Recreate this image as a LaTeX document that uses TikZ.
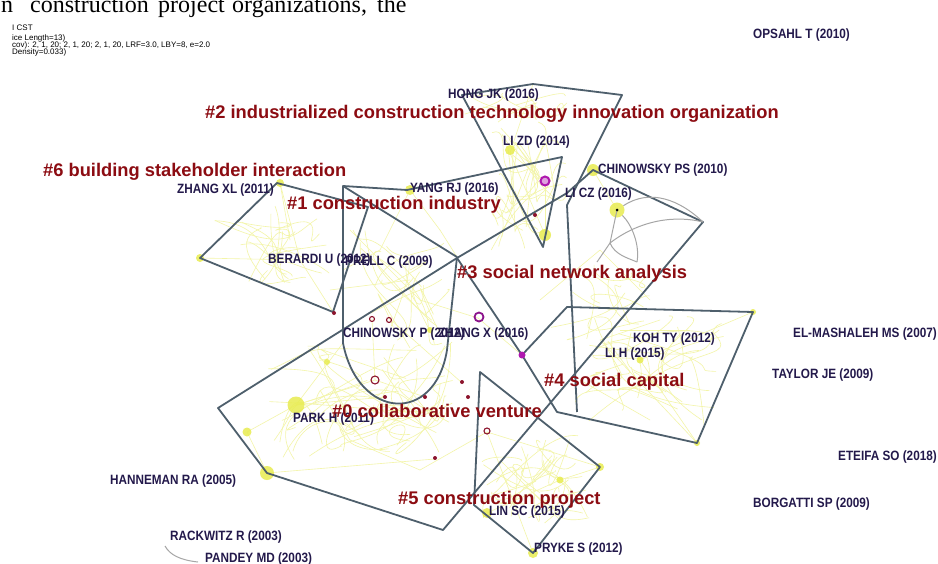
\documentclass[tikz,border=0pt]{standalone}
\usepackage{fontspec}
\setmainfont{Liberation Sans}
\newfontfamily\pagefont{Liberation Serif}
\newfontfamily\labfont[FakeStretch=0.87]{Liberation Sans}
\usetikzlibrary{positioning}

\definecolor{clusterred}{RGB}{140,12,18}
\definecolor{authnavy}{RGB}{35,25,75}
\definecolor{hullgray}{RGB}{78,95,108}
\definecolor{citeyellow}{RGB}{232,236,80}
\definecolor{ringred}{RGB}{140,20,45}
\definecolor{ringpurple}{RGB}{175,25,175}

\tikzset{
  cluster/.style={anchor=base west, inner sep=0pt, text=clusterred,
    font=\fontsize{18.3}{20}\selectfont\bfseries},
  author/.style={anchor=base west, inner sep=0pt, text=authnavy,
    font=\labfont\fontsize{13.5}{14}\selectfont\bfseries},
  header/.style={anchor=base west, inner sep=0pt, font=\fontsize{8}{8}\selectfont},
  pagetext/.style={anchor=base west, inner sep=0pt, font=\pagefont\fontsize{24}{24}\selectfont},
  hull/.style={draw=hullgray, line width=1.8pt, line join=round},
  citelink/.style={draw=citeyellow!50, line width=0.6pt},
  leafarc/.style={draw=gray!70, line width=1pt},
  blob/.style={circle, fill=citeyellow, fill opacity=0.85, inner sep=0pt},
  ring/.style={circle, draw=ringred, line width=1.1pt, inner sep=0pt},
  dot/.style={circle, fill=ringred, inner sep=0pt, minimum size=4pt}
}

\begin{document}
\begin{tikzpicture}[x=1pt,y=-1pt]
  % canvas
  \useasboundingbox (0,0) rectangle (938,563);
  \fill[white] (0,0) rectangle (938,563);
  \clip (0,0) rectangle (938,563);

  % page text cut by the top edge
  \node[pagetext] (pg1) at (1,12) {n};
  \node[pagetext] (pg2) at (30,12) {construction};
  \node[pagetext] (pg3) at (158,12) {project};
  \node[pagetext] (pg4) at (232,12) {organizations,};
  \node[pagetext] (pg5) at (377,12) {the};

  % CiteSpace header
  \node[header] (hdr1) at (12,30) {I CST};
  \node[header] (hdr2) at (12,40) {ice Length=13)};
  \node[header] (hdr3) at (12,47) {cov): 2, 1, 20; 2, 1, 20; 2, 1, 20, LRF=3.0, LBY=8, e=2.0};
  \node[header] (hdr4) at (12,54) {Density=0.033)};

  % faint citation links
  \pgfmathsetseed{11}
  \foreach \cx/\cy/\rx/\ry/\n in {360/400/95/60/34, 535/480/55/45/22, 650/370/80/55/22,
      530/180/40/70/20, 270/250/60/45/16, 400/290/50/60/16, 520/110/60/20/8,
      600/300/50/40/10}
    \foreach \k in {1,...,\n}
      \draw[citelink] ({\cx+\rx*rand},{\cy+\ry*rand}) to[bend left=15]
        ({\cx+\rx*rand},{\cy+\ry*rand});
  \foreach \xa/\ya/\xb/\yb in {296/405/375/380, 296/405/247/432, 296/405/385/397,
      296/405/343/343, 267/473/247/432, 267/473/435/459, 375/380/425/397,
      372/319/375/380, 390/319/461/382, 545/235/545/181, 545/235/510/153,
      510/153/545/181, 510/153/533/84, 487/432/600/467, 487/432/533/553,
      487/513/560/480, 560/480/600/467, 617/210/593/170, 697/443/640/360,
      640/360/753/312, 697/443/600/340, 600/340/660/320, 280/183/300/260,
      300/260/200/258, 300/260/333/312, 280/183/290/240, 410/190/440/230,
      440/230/457/257, 410/190/380/250, 380/250/343/270, 350/230/420/300,
      420/300/478/318, 478/318/522/355, 540/300/600/250, 600/250/650/300,
      320/390/350/440, 350/440/420/470, 420/470/487/432, 500/460/560/520,
      620/330/690/330, 580/380/650/420, 330/290/410/280}
    \draw[citelink] (\xa,\ya) -- (\xb,\yb);

  % citation nodes
  \foreach \px/\py/\sz [count=\i] in {267/473/14, 296/405/17, 247/432/9,
      410/190/10, 545/235/12, 593/170/12, 617/210/15, 533/553/10,
      487/513/10, 600/467/8, 280/183/8, 200/258/8, 697/443/6,
      753/312/6, 510/150/10, 327/362/6, 430/330/6, 560/480/7, 640/360/7}
    \node[blob, minimum size=\sz pt] (cite\i) at (\px,\py) {};

  % cluster hulls
  \draw[hull] (277,183) -- (200,258) -- (333,312) -- (368,207) -- cycle;
  \draw[hull] (343,186) -- (457,257) -- (447,350)
    .. controls (435,425) and (358,420) .. (343,343) -- cycle;
  \draw[hull] (343,186) -- (407,190) -- (562,157) -- (543,247) -- (462,95)
    -- (533,84) -- (622,95) -- (567,205) -- (577,412);
  \draw[hull] (457,258) -- (218,408) -- (267,473) -- (443,530) -- (703,222)
    -- (593,170) -- (567,193) -- cycle;
  \draw[hull] (457,258) -- (522,355);
  \draw[hull] (522,355) -- (557,412) -- (697,443) -- (753,312) -- (567,307) -- cycle;
  \draw[hull] (480,372) -- (600,467) -- (533,553) -- (474,505) -- cycle;

  % #3 leaf arcs
  \draw[leafarc] (cite7) .. controls (650,188) and (680,200) .. (703,222);
  \draw[leafarc] (610,243) .. controls (640,220) and (675,215) .. (703,222);
  \draw[leafarc] (cite7) .. controls (632,225) and (640,245) .. (637,262);
  \draw[leafarc] (610,243) .. controls (615,255) and (628,258) .. (637,262);
  \draw[leafarc] (610,243) -- (597,262);
  \draw[leafarc] (617,210) -- (610,243);
  \draw[leafarc] (165,546) .. controls (170,555) and (180,560) .. (198,562);

  % burst / centrality rings
  \node[circle, draw=ringpurple, line width=2pt, fill=ringpurple!40, inner sep=0pt, minimum size=9pt] (ringA) at (545,181) {};
  \node[circle, draw=ringpurple!80!black, line width=1.8pt, inner sep=0pt, minimum size=9pt] (ringB) at (479,317) {};
  \node[circle, fill=ringpurple, inner sep=0pt, minimum size=7pt] (ringC) at (522,355) {};
  \node[ring, minimum size=8pt] (ringD) at (375,380) {};
  \node[ring, minimum size=5pt] (ringE) at (372,319) {};
  \node[ring, minimum size=5pt] (ringF) at (389,320) {};
  \node[ring, minimum size=6pt] (ringG) at (487,431) {};
  \node[dot] (dotA) at (535,215) {};
  \node[dot] (dotB) at (334,313) {};
  \node[dot] (dotC) at (385,397) {};
  \node[dot] (dotD) at (425,397) {};
  \node[dot] (dotE) at (462,382) {};
  \node[dot] (dotF) at (468,397) {};
  \node[dot] (dotG) at (435,458) {};
  \node[circle, fill=black, inner sep=0pt, minimum size=3pt] (dotH) at (617,210) {};

  % author labels
  \node[author] (opsahl) at (753,38) {OPSAHL T (2010)};
  \node[author] (hongjk) at (448,98) {HONG JK (2016)};
  \node[author] (lizd) at (503,145) {LI ZD (2014)};
  \node[author] (chinps) at (598,173) {CHINOWSKY PS (2010)};
  \node[author] (licz) at (565,197) {LI CZ (2016)};
  \node[author] (yangrj) at (410,192) {YANG RJ (2016)};
  \node[author] (zhangxl) at (177,193) {ZHANG XL (2011)};
  \node[author] (berardi) at (268,263) {BERARDI U (2012)};
  \node[author] (prell) at (345,265) {PRELL C (2009)};
  \node[author] (chinp) at (343,337) {CHINOWSKY P (2012)};
  \node[author] (zhangx) at (438,337) {ZHANG X (2016)};
  \node[author] (kohty) at (633,342) {KOH TY (2012)};
  \node[author] (lih) at (605,357) {LI H (2015)};
  \node[author] (elmash) at (793,337) {EL-MASHALEH MS (2007)};
  \node[author] (taylor) at (772,378) {TAYLOR JE (2009)};
  \node[author] (eteifa) at (838,460) {ETEIFA SO (2018)};
  \node[author] (borgatti) at (753,507) {BORGATTI SP (2009)};
  \node[author] (parkh) at (293,422) {PARK H (2011)};
  \node[author] (hanneman) at (110,484) {HANNEMAN RA (2005)};
  \node[author] (linsc) at (489,515) {LIN SC (2015)};
  \node[author] (rackwitz) at (170,540) {RACKWITZ R (2003)};
  \node[author] (pandey) at (205,562) {PANDEY MD (2003)};
  \node[author] (pryke) at (534,552) {PRYKE S (2012)};

  % cluster labels
  \node[cluster] (cl2) at (205,118) {\#2 industrialized construction technology innovation organization};
  \node[cluster] (cl6) at (43,176) {\#6 building stakeholder interaction};
  \node[cluster] (cl1) at (287,209) {\#1 construction industry};
  \node[cluster] (cl3) at (457,278) {\#3 social network analysis};
  \node[cluster] (cl4) at (544,386) {\#4 social capital};
  \node[cluster] (cl0) at (332,417) {\#0 collaborative venture};
  \node[cluster] (cl5) at (398,504) {\#5 construction project};
\end{tikzpicture}
\end{document}
